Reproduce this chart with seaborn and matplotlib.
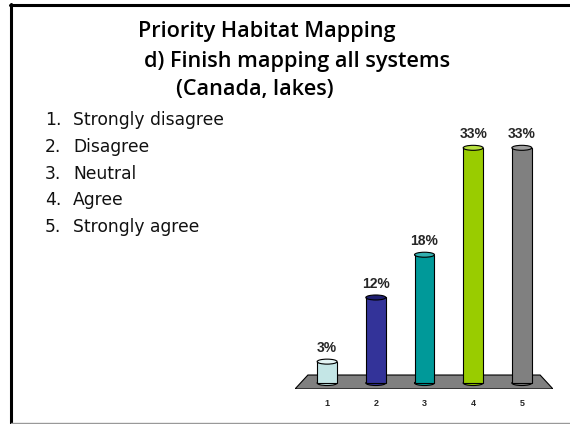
import matplotlib
matplotlib.use("Agg")
import matplotlib.pyplot as plt
from matplotlib.lines import Line2D
from matplotlib.patches import Polygon, Ellipse
import seaborn as sns

# data
categories = ["1", "2", "3", "4", "5"]
values = [3, 12, 18, 33, 33]
answers = ["Strongly disagree", "Disagree", "Neutral", "Agree", "Strongly agree"]
bar_colors = ["#c4e6e6", "#333399", "#009999", "#99cc00", "#808080"]
top_colors = ["#e4f4f4", "#1f1f70", "#33b0b0", "#b8e040", "#a0a0a0"]

title_lines = ["Priority Habitat Mapping",
               "d) Finish mapping all systems",
               "(Canada, lakes)"]

sns.set_style("white")
plt.rcParams['font.family'] = ['DejaVu Sans']

W, H = 570, 424
fig = plt.figure(figsize=(W / 100, H / 100), dpi=100)

def fx(px):
    return px / W

def fy(py):
    return 1 - py / H

# slide frame
fig.add_artist(Line2D([fx(11), fx(11)], [fy(4), fy(423)], color="black", lw=2.2))
fig.add_artist(Line2D([fx(10), fx(570)], [fy(5), fy(5)], color="black", lw=2.2))
fig.add_artist(Line2D([fx(11), fx(570)], [fy(423), fy(423)], color="#999999", lw=1))

# title
title_x = [267, 297, 255]
title_base = [37, 67, 95]
for txt, x, y in zip(title_lines, title_x, title_base):
    fig.text(fx(x), fy(y), txt, ha="center", va="baseline",
             fontsize=15.6, fontweight="semibold", family="Open Sans", color="black")

# numbered list on the left
for i, ans in enumerate(answers):
    y = fy(125 + i * 26.8)
    fig.text(fx(45), y, f"{i + 1}.", ha="left", va="baseline", fontsize=12.3,
             family="DejaVu Sans", color="#111111")
    fig.text(fx(73), y, ans, ha="left", va="baseline", fontsize=12.3,
             family="DejaVu Sans", color="#111111")

# chart area
ax = fig.add_axes([fx(295), fy(389), (553 - 295) / W, (389 - 130) / H])
ax.patch.set_alpha(0)

# floor
floor = Polygon([[0, 0], [1, 0], [0.95, 0.054], [0.05, 0.054]], closed=True,
                transform=ax.transAxes, facecolor="#808080", edgecolor="black",
                lw=0.8, zorder=0)
ax.add_patch(floor)

bw = 0.41
sns.barplot(x=categories, y=values, hue=categories, palette=bar_colors,
            width=bw, edgecolor="black", linewidth=0.8, legend=False,
            ax=ax, zorder=2, saturation=1)

ax.set_xlim(-0.66, 4.64)
ax.set_ylim(-0.84, 35.5)

# cylinder caps
for i, v in enumerate(values):
    ax.add_patch(Ellipse((i, 0), bw, 0.7, facecolor=bar_colors[i], edgecolor="black",
                         lw=0.8, zorder=1.9))
    ax.add_patch(Ellipse((i, v), bw, 0.7, facecolor=top_colors[i], edgecolor="black",
                         lw=0.8, zorder=3))

for c in ax.containers:
    ax.bar_label(c, labels=[f"{v:g}%" for v in c.datavalues], padding=5,
                 fontsize=10, fontweight="bold", family="Liberation Sans")

ax.set_xlabel("")
ax.set_ylabel("")
ax.set_yticks([])
ax.tick_params(axis="x", length=0, pad=7)
for lab in ax.get_xticklabels():
    lab.set_fontsize(6.5)
    lab.set_fontweight("bold")
    lab.set_family("Liberation Sans")
for s in ax.spines.values():
    s.set_visible(False)

fig.savefig("out.png", dpi=100)
